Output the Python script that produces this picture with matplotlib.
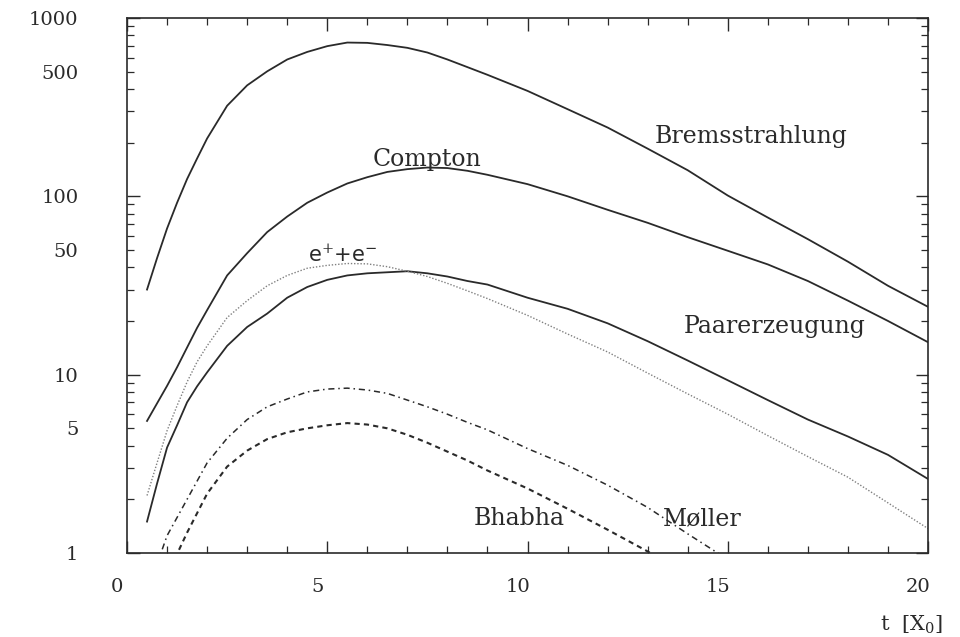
import numpy as np
import matplotlib
matplotlib.use("Agg")
import matplotlib.pyplot as plt
from matplotlib.ticker import FixedLocator, MultipleLocator, FuncFormatter
from matplotlib.transforms import ScaledTranslation

# shower depth t in radiation lengths
t = [0.5, 0.75, 1, 1.25, 1.5, 1.75, 2, 2.5, 3, 3.5, 4, 4.5, 5, 5.5, 6, 6.5,
     7, 7.5, 8, 8.5, 9, 10, 11, 12, 13, 14, 15, 16, 17, 18, 19, 20]

brems = [30, 45, 66, 92, 125, 163, 211, 322, 419, 502, 585, 645, 695, 728,
         725, 705, 680, 640, 585, 530, 480, 390, 308, 243, 185, 140, 101, 76,
         57.5, 43, 31.5, 24]
compton = [5.5, 6.9, 8.65, 11, 14.2, 18.3, 23, 36, 48, 63, 77, 92, 105, 118,
           128, 137, 142, 145, 144, 139, 132, 117, 100, 84, 71, 59, 49.5, 41.5,
           33.5, 26, 20, 15.2]
paar = [1.5, 2.45, 3.9, 5.2, 7.0, 8.6, 10.3, 14.5, 18.5, 22, 27, 31, 34, 36,
        37, 37.5, 38, 37, 35.5, 33.5, 32, 27, 23.4, 19.4, 15.4, 12, 9.3, 7.2,
        5.6, 4.5, 3.55, 2.6]
epem = [2.1, 3.2, 4.85, 6.7, 9.1, 11.8, 14.5, 20.9, 26, 31.5, 36, 39.5, 41,
        42, 41.8, 40.3, 38, 35.5, 32.5, 29.5, 26.7, 21.5, 16.9, 13.4, 10.2, 7.8,
        6.0, 4.55, 3.47, 2.66, 1.91, 1.37]

t_moller = [0.5, 1, 1.5, 2, 2.5, 3, 3.5, 4, 4.5, 5, 5.5, 6, 6.5, 7, 7.5, 8,
            8.5, 9, 10, 11, 12, 13, 14, 15]
moller = [0.6, 1.25, 2.0, 3.2, 4.4, 5.6, 6.6, 7.3, 8.0, 8.3, 8.4, 8.2, 7.85,
          7.2, 6.6, 6.0, 5.4, 4.9, 3.85, 3.1, 2.4, 1.8, 1.28, 0.92]

t_bhabha = [1, 1.5, 2, 2.5, 3, 3.5, 4, 4.5, 5, 5.5, 6, 6.5, 7, 7.5, 8, 8.5,
            9, 10, 11, 12, 13, 14]
bhabha = [0.75, 1.3, 2.15, 3.05, 3.75, 4.35, 4.75, 5.0, 5.2, 5.35, 5.25, 5.0,
          4.6, 4.15, 3.7, 3.3, 2.9, 2.3, 1.77, 1.35, 1.02, 0.75]

ytick_major = [1, 10, 100, 1000]
ytick_labelled = [1, 5, 10, 50, 100, 500, 1000]
xtick_major = [0, 5, 10, 15, 20]

plt.rcParams['mathtext.fontset'] = 'dejavuserif'
ink = '#2a2a2a'

fig = plt.figure(figsize=(9.6, 6.37), dpi=100)
ax = fig.add_axes([0.1323, 0.1319, 0.8344, 0.8399])

ax.plot(t, brems, color=ink, lw=1.3)
ax.plot(t, compton, color=ink, lw=1.3)
ax.plot(t, paar, color=ink, lw=1.3)
ax.plot(t, epem, color='0.5', lw=1.0, ls=(0, (1, 1.3)))
ax.plot(t_moller, moller, color=ink, lw=1.1, ls=(0, (4, 2.5, 1, 2.5)))
ax.plot(t_bhabha, bhabha, color=ink, lw=1.5, ls=(0, (2.5, 2)))

ax.set_yscale('log')
ax.set_xlim(0, 20)
ax.set_ylim(1, 1000)

ax.xaxis.set_major_locator(FixedLocator(xtick_major))
ax.xaxis.set_minor_locator(MultipleLocator(1))
ax.set_xticklabels([str(v) for v in xtick_major])

ax.yaxis.set_major_locator(FixedLocator(ytick_major))
ax.yaxis.set_minor_locator(FixedLocator(
    [m * 10 ** e for e in range(3) for m in range(2, 10)]))
ax.yaxis.set_major_formatter(FuncFormatter(lambda v, p: '%d' % v))
ax.yaxis.set_minor_formatter(FuncFormatter(
    lambda v, p: '%d' % round(v) if round(v) in ytick_labelled else ''))

ax.tick_params(which='both', direction='in', top=True, right=True,
               color=ink, labelcolor=ink, labelsize=14)
ax.tick_params(which='major', length=9, width=1.0)
ax.tick_params(which='minor', length=5, width=0.9)
ax.tick_params(axis='y', which='both', pad=35)
ax.tick_params(axis='x', which='both', pad=18)

for lab in ax.get_xticklabels() + ax.get_yticklabels(which='both'):
    lab.set_family('DejaVu Serif')
# x tick labels sit a little to the left of their ticks
shift = ScaledTranslation(-0.10, 0, fig.dpi_scale_trans)
for lab in ax.get_xticklabels():
    lab.set_transform(lab.get_transform() + shift)

for sp in ax.spines.values():
    sp.set_linewidth(1.2)
    sp.set_color(ink)

lbl = dict(family='DejaVu Serif', fontsize=17, color=ink,
           ha='center', va='baseline')
ax.text(15.58, 200, 'Bremsstrahlung', **lbl)
ax.text(7.5, 147, 'Compton', **lbl)
ax.text(16.18, 17.1, 'Paarerzeugung', **lbl)
ax.text(9.79, 1.44, 'Bhabha', **lbl)
ax.text(14.36, 1.44, 'Møller', **lbl)
ax.text(5.38, 43, r'e$^{+}$+e$^{-}$', family='DejaVu Sans', fontsize=15,
        color=ink, ha='center', va='baseline')

fig.text(0.982, 0.01, r't  [X$_0$]', family='DejaVu Serif', fontsize=15,
         color=ink, ha='right', va='baseline')

fig.savefig('out.png', dpi=100)
